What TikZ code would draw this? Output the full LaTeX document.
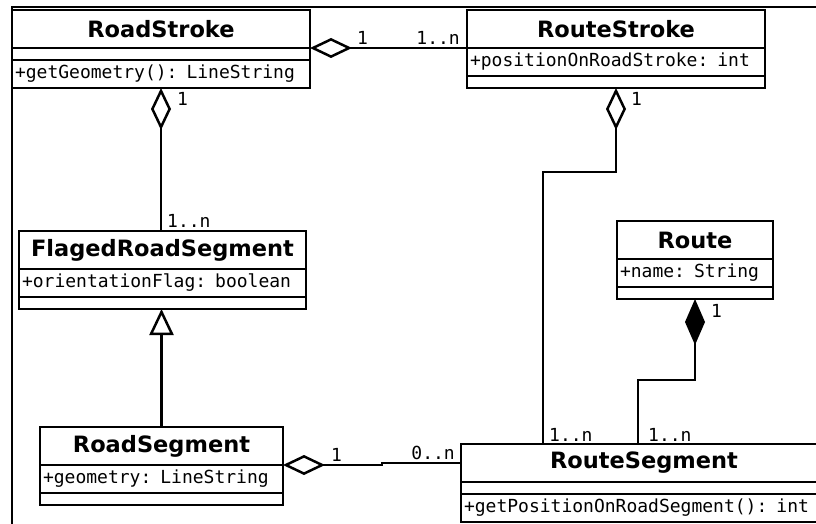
\documentclass[tikz,border=0pt]{standalone}
\usepackage{fontspec}
\setmainfont{DejaVu Sans}
\newfontfamily\umlmono{DejaVu Sans Mono}
\usetikzlibrary{arrows.meta, positioning, calc}

\begin{document}
\begin{tikzpicture}[
    x=1pt, y=-1pt,
    chead/.style={draw, line width=2.5pt, outer sep=0pt, inner sep=0pt,
                  anchor=north west, minimum width=#1, minimum height=38pt,
                  font=\fontsize{22.5}{26}\selectfont\bfseries},
    crow/.style={draw, line width=2.5pt, outer sep=0pt, inner xsep=3pt,
                 inner ysep=0pt, text width=#1, minimum height=28pt,
                 align=left, font=\umlmono\fontsize{18}{22}\selectfont},
    cempty/.style={crow=#1, minimum height=12pt},
    mult/.style={font=\umlmono\fontsize{18}{22}\selectfont, inner sep=0pt},
    agg/.style={line width=2.5pt,
                {Diamond[open, fill=white, length=42pt, width=20pt]}-},
    comp/.style={line width=2.5pt, {Diamond[length=46pt, width=20pt]}-},
    gen/.style={line width=2.5pt,
                -{Triangle[open, fill=white, length=26pt, width=24pt]}}
  ]
  \useasboundingbox (0,0) rectangle (816,524);
  \clip (0,0) rectangle (816,524);
  \draw[line width=2pt] (12,524) |- (816,7);

  % classes
  \node[chead=298pt] (rsHead) at (12,10) {RoadStroke};
  \node[cempty=292pt, below=0pt of rsHead] (rsAttr) {};
  \node[crow=292pt, below=0pt of rsAttr] (rsMeth) {+getGeometry(): LineString};

  \node[chead=298pt] (rtHead) at (467,10) {RouteStroke};
  \node[crow=292pt, below=0pt of rtHead] (rtAttr) {+positionOnRoadStroke: int};
  \node[cempty=292pt, below=0pt of rtAttr] (rtEmpty) {};

  \node[chead=287pt] (fsHead) at (19,231) {FlagedRoadSegment};
  \node[crow=281pt, below=0pt of fsHead] (fsAttr) {+orientationFlag: boolean};
  \node[cempty=281pt, below=0pt of fsAttr] (fsEmpty) {};

  \node[chead=156pt] (roHead) at (617,221) {Route};
  \node[crow=150pt, below=0pt of roHead] (roAttr) {+name: String};
  \node[cempty=150pt, below=0pt of roAttr] (roEmpty) {};

  \node[chead=243pt] (rdHead) at (40,427) {RoadSegment};
  \node[crow=237pt, below=0pt of rdHead] (rdAttr) {+geometry: LineString};
  \node[cempty=237pt, below=0pt of rdAttr] (rdEmpty) {};

  \node[chead=366pt] (rgHead) at (461,444) {RouteSegment};
  \node[cempty=360pt, below=0pt of rgHead] (rgAttr) {};
  \node[crow=360pt, below=0pt of rgAttr] (rgMeth) {+getPositionOnRoadSegment(): int};

  % associations
  \draw[agg] (rsHead.south east) -- (rtHead.south west);
  \node[mult, anchor=south west] (mRsRt) at ($(rsHead.south east)+(47,-3)$) {1};
  \node[mult, anchor=south east] (mRtRs) at ($(rtHead.south west)+(-7,-3)$) {1..n};

  \draw[agg] (rsMeth.south) -- (rsMeth.south |- fsHead.north);
  \node[mult, anchor=north west] (mRsFs) at ($(rsMeth.south)+(16,4)$) {1};
  \node[mult, anchor=south west] (mFsRs) at ($(rsMeth.south |- fsHead.north)+(6,-3)$) {1..n};

  \draw[gen] (rdHead.north) -- (rdHead.north |- fsEmpty.south);

  \draw[agg] (rdHead.south east) -- ++(99,0) |- (rgHead.west);
  \node[mult, anchor=south west] (mRdRg) at ($(rdHead.south east)+(48,-3)$) {1};
  \node[mult, anchor=south east] (mRgRd) at ($(rgHead.west)+(-6,-3)$) {0..n};

  \draw[agg] (rtEmpty.south) -- ++(0,84) -| ($(rgHead.north west)+(82,0)$);
  \node[mult, anchor=north west] (mRtRg) at ($(rtEmpty.south)+(15,4)$) {1};
  \node[mult, anchor=south west] (mRgRt) at ($(rgHead.north west)+(88,-2)$) {1..n};

  \draw[comp] (roEmpty.south) -- ++(0,81) -| ($(rgHead.north west)+(177,0)$);
  \node[mult, anchor=north west] (mRoRg) at ($(roEmpty.south)+(16,5)$) {1};
  \node[mult, anchor=south west] (mRgRo) at ($(rgHead.north west)+(187,-2)$) {1..n};
\end{tikzpicture}
\end{document}
